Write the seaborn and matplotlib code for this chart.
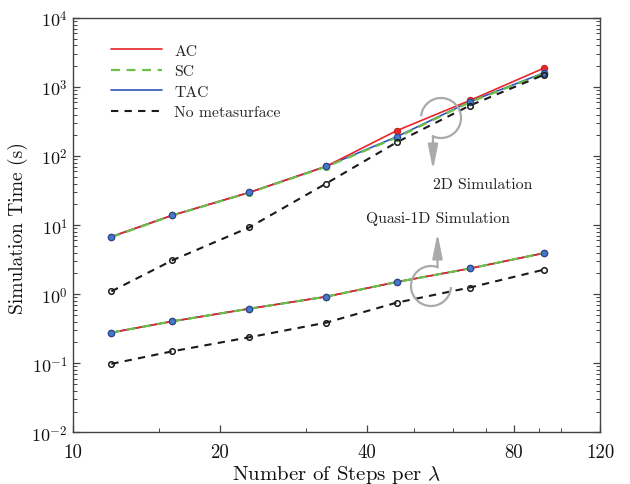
import numpy as np
import pandas as pd
import seaborn as sns
import matplotlib
matplotlib.use("Agg")
import matplotlib.pyplot as plt
from matplotlib.patches import Arc
from matplotlib.lines import Line2D
from matplotlib.ticker import FixedLocator, NullFormatter, LogLocator

# ---- data ----
steps = [12, 16, 23, 33, 46, 65, 92]
ac_2d = [6.8, 13.9, 29.8, 71, 233, 640, 1870]
sc_2d = [6.7, 13.8, 29.6, 70, 185, 605, 1560]
tac_2d = [6.8, 13.9, 29.8, 71, 190, 615, 1600]
none_2d = [1.1, 3.1, 9.3, 40, 158, 540, 1500]
ac_q1d = [0.278, 0.405, 0.617, 0.92, 1.50, 2.36, 3.93]
sc_q1d = [0.278, 0.405, 0.617, 0.92, 1.50, 2.36, 3.93]
tac_q1d = [0.278, 0.405, 0.617, 0.92, 1.50, 2.36, 3.93]
none_q1d = [0.098, 0.149, 0.238, 0.387, 0.753, 1.25, 2.26]
series_names = ["AC", "SC", "TAC", "No metasurface"]
x_major = [10, 20, 40, 80, 120]
x_minor = [15, 30, 50, 60, 70, 90, 100]
y_major = [1e-2, 1e-1, 1e0, 1e1, 1e2, 1e3, 1e4]
y_labels = [r"$10^{-2}$", r"$10^{-1}$", r"$10^{0}$", r"$10^{1}$", r"$10^{2}$", r"$10^{3}$", r"$10^{4}$"]

sns.set_theme(style="ticks")
plt.rcParams["font.family"] = ["cmr10", "DejaVu Serif"]
plt.rcParams["mathtext.fontset"] = "cm"
plt.rcParams["axes.formatter.use_mathtext"] = True
plt.rcParams["axes.unicode_minus"] = False

RED = "#e8262a"
GREEN = "#6cc04a"
BLUE = "#2f56b8"
BLACK = "#1a1a1a"
GRAY = "#aaaaaa"

fig = plt.figure(figsize=(6.3, 4.85), dpi=100)
ax = fig.add_axes([72.7 / 630, 1 - 433.3 / 485, (600 - 72.7) / 630, (433.3 - 19) / 485])

styles = {
    "TAC": dict(color=BLUE, lw=1.2, ls="-"),
    "AC": dict(color=RED, lw=1.2, ls="-"),
    "SC": dict(color=GREEN, lw=1.6, ls=(0, (4, 3))),
    "No metasurface": dict(color=BLACK, lw=1.5, ls=(0, (3.5, 3))),
}
groups = [
    {"AC": ac_2d, "SC": sc_2d, "TAC": tac_2d, "No metasurface": none_2d},
    {"AC": ac_q1d, "SC": sc_q1d, "TAC": tac_q1d, "No metasurface": none_q1d},
]

for g in groups:
    for name in ["TAC", "AC", "SC", "No metasurface"]:
        st = styles[name]
        sns.lineplot(x=steps, y=g[name], ax=ax, color=st["color"], linewidth=st["lw"],
                     linestyle=st["ls"], legend=False, zorder=2)
    # markers
    sns.lineplot(x=steps, y=g["AC"], ax=ax, color=RED, linewidth=0, marker="o",
                 markersize=4.5, markeredgecolor="#c81e22", markeredgewidth=0.8, legend=False, zorder=3)
    sns.lineplot(x=steps, y=g["SC"], ax=ax, color=GREEN, linewidth=0, marker="o",
                 markersize=4.5, markeredgecolor=GREEN, markeredgewidth=0.8, legend=False, zorder=3)
    sns.lineplot(x=steps, y=g["TAC"], ax=ax, color=BLUE, linewidth=0, marker="o",
                 markersize=4.5, markerfacecolor="#4a78c8", markeredgecolor="#2a4a9a",
                 markeredgewidth=0.9, legend=False, zorder=4)
    sns.lineplot(x=steps, y=g["No metasurface"], ax=ax, color=BLACK, linewidth=0, marker="o",
                 markersize=4, markerfacecolor="none", markeredgecolor=BLACK,
                 markeredgewidth=1.1, legend=False, zorder=4)

ax.set_xscale("log")
ax.set_yscale("log")
ax.set_xlim(10, 120)
ax.set_ylim(1e-2, 1e4)
ax.xaxis.set_major_locator(FixedLocator(x_major))
ax.xaxis.set_minor_locator(FixedLocator(x_minor))
ax.set_xticklabels([str(v) for v in x_major])
ax.xaxis.set_minor_formatter(NullFormatter())
ax.yaxis.set_major_locator(FixedLocator(y_major))
ax.set_yticklabels(y_labels)
ax.yaxis.set_minor_locator(LogLocator(base=10, subs=np.arange(2, 10), numticks=20))
ax.yaxis.set_minor_formatter(NullFormatter())
ax.tick_params(which="both", direction="in", left=True, right=True, top=False,
               color="#444444", labelsize=13, labelcolor="#111111")
ax.tick_params(which="major", length=5, width=0.9)
ax.tick_params(which="minor", length=3, width=0.7)
ax.tick_params(axis="x", which="major", pad=8, labelsize=13.5)
for s in ax.spines.values():
    s.set_visible(True)
    s.set_color("#444444")
    s.set_linewidth(1.0)

ax.set_xlabel(r"Number of Steps per $\lambda$", fontsize=15, color="#111111", labelpad=1)
ax.set_ylabel("Simulation Time (s)", fontsize=14, color="#111111")
ax.yaxis.set_label_coords(-0.084, 0.495)

# legend
handles = [Line2D([], [], color=styles[n]["color"], lw=styles[n]["lw"], ls=styles[n]["ls"]) for n in series_names]
ax.legend(handles, series_names, loc="upper left", bbox_to_anchor=(0.045, 0.972), frameon=False,
          fontsize=11.3, handlelength=3.3, handletextpad=0.75, labelspacing=0.42)

# annotations (pixel positions converted to axes fraction)
AX_L, AX_R, AX_T, AX_B = 72.7, 600.0, 19.0, 433.3
W, H = AX_R - AX_L, AX_B - AX_T

def af(px, py):
    return ((px - AX_L) / W, 1 - (py - AX_T) / H)

r = 20
c1 = af(441, 119)
ax.add_patch(Arc(c1, 2 * r / W, 2 * r / H, theta1=-112, theta2=173.5, transform=ax.transAxes,
                 color=GRAY, lw=1.6, zorder=5))
ax.annotate("", xy=af(433, 171), xytext=af(433, 137.5), xycoords="axes fraction",
            arrowprops=dict(arrowstyle="-|>,head_length=1.5,head_width=0.3", color=GRAY, lw=1.6,
                            mutation_scale=10, shrinkA=0, shrinkB=0), zorder=5)
ax.text(*af(483, 185), "2D Simulation", transform=ax.transAxes, ha="center", va="center",
        fontsize=11.3, color="#222222")

c2 = af(431, 287)
ax.add_patch(Arc(c2, 2 * r / W, 2 * r / H, theta1=72, theta2=356, transform=ax.transAxes,
                 color=GRAY, lw=1.6, zorder=5))
ax.annotate("", xy=af(437.5, 234), xytext=af(437.5, 268), xycoords="axes fraction",
            arrowprops=dict(arrowstyle="-|>,head_length=1.5,head_width=0.3", color=GRAY, lw=1.6,
                            mutation_scale=10, shrinkA=0, shrinkB=0), zorder=5)
ax.text(*af(438, 219), "Quasi-1D Simulation", transform=ax.transAxes, ha="center", va="center",
        fontsize=11.3, color="#222222")

fig.savefig("out.png", dpi=100)
